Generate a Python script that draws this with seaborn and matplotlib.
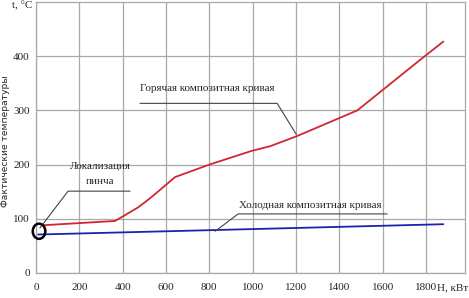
import matplotlib
matplotlib.use("Agg")
import matplotlib.pyplot as plt
import seaborn as sns
import pandas as pd
from matplotlib.patches import Ellipse

hot_H = [28, 365, 471, 527, 642, 800, 993, 1081, 1201, 1483, 1769, 1880]
hot_T = [88, 96, 121, 138, 177, 200, 225, 234, 252, 300, 392, 427]
cold_H = [10, 800, 1880]
cold_T = [71, 79, 90]
x_ticks = [0, 200, 400, 600, 800, 1000, 1200, 1400, 1600, 1800]
y_ticks = [0, 100, 200, 300, 400]

sns.set_theme(style="white")
plt.rcParams['font.family'] = ['Liberation Serif', 'DejaVu Serif']

fig = plt.figure(figsize=(4.69, 2.98), dpi=100)
ax = fig.add_axes([36/469, 25/298, (465-36)/469, (273-2)/298])

hot = pd.DataFrame({"H": hot_H, "T": hot_T})
cold = pd.DataFrame({"H": cold_H, "T": cold_T})
sns.lineplot(data=hot, x="H", y="T", ax=ax, color="#d22630", lw=1.3, sort=False)
sns.lineplot(data=cold, x="H", y="T", ax=ax, color="#1f1fb0", lw=1.3, sort=False)

ax.set_xlim(0, 1980)
ax.set_ylim(0, 500)
ax.set_xticks(x_ticks)
ax.set_yticks(y_ticks)
ax.grid(True, color="#a8a8a8", lw=0.9)
for s in ax.spines.values():
    s.set_color("#a8a8a8")
    s.set_linewidth(0.9)
ax.tick_params(axis="y", labelsize=8, length=0, pad=4.5)
ax.tick_params(axis="x", labelsize=8, length=0, pad=7)
ax.set_xlabel("")
ax.set_ylabel("")

# annotations
lc = "#444444"
ax.plot([480, 1113, 1201], [313, 313, 256], color=lc, lw=0.8)
ax.text(790, 341, "Горячая композитная кривая", fontsize=8, ha="center", va="center")
ax.plot([1621, 933, 827], [109, 109, 77], color=lc, lw=0.8)
ax.text(1266, 124, "Холодная композитная кривая", fontsize=8, ha="center", va="center")
ax.plot([434, 148, 18], [151, 151, 83], color=lc, lw=0.8)
ax.text(296, 197, "Локализация", fontsize=8, ha="center", va="center")
ax.text(296, 168, "пинча", fontsize=8, ha="center", va="center")
ax.add_patch(Ellipse((14, 77), 58, 28, fill=False, ec="black", lw=1.8, clip_on=False, zorder=5))

fig.text(6/469, 1 - 141/298, "Фактические температуры", rotation=90,
         fontsize=6.6, ha="center", va="center", family=["DejaVu Sans"])
fig.text(22/469, 1 - 6/298, "t, °C", fontsize=8, ha="center", va="center")
fig.text(468/469, 1 - 288/298, "H, кВт", fontsize=8, ha="right", va="center")

fig.savefig("out.png", dpi=100)
